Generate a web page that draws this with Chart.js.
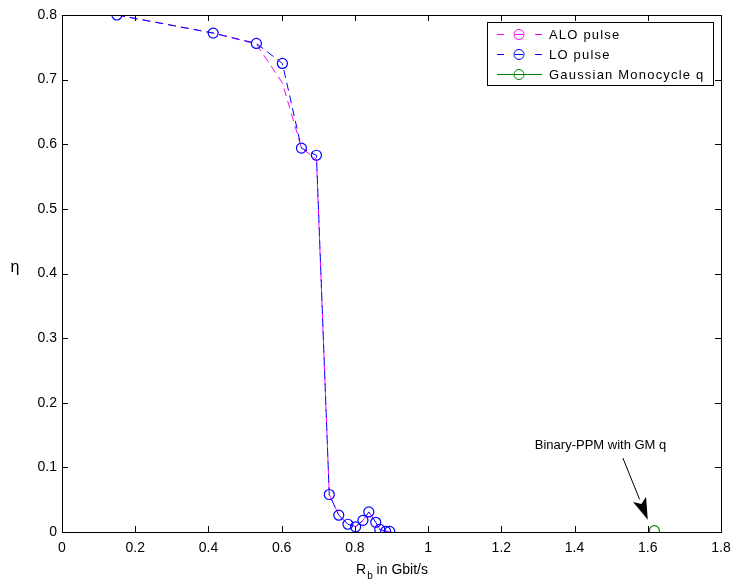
<!DOCTYPE html>
<html>
<head>
<meta charset="utf-8">
<script src="https://cdn.jsdelivr.net/npm/chart.js@4.4.1/dist/chart.umd.min.js"></script>
<style>
  html, body { margin: 0; padding: 0; background: #fff; }
  #wrap { width: 733px; height: 581px; position: relative; }
</style>
</head>
<body>
<div id="wrap"><canvas id="chart"></canvas></div>
<script>
// data
const loRate = [0.150, 0.413, 0.531, 0.602, 0.654, 0.695, 0.730, 0.756, 0.781, 0.802, 0.822, 0.838, 0.857, 0.868, 0.884, 0.895];
const loEta  = [0.800, 0.772, 0.756, 0.725, 0.594, 0.583, 0.058, 0.026, 0.012, 0.008, 0.018, 0.031, 0.015, 0.004, 0.001, 0.001];

const aloRate = [0.150, 0.413, 0.531, 0.602, 0.654, 0.695, 0.730, 0.756, 0.781, 0.802, 0.822, 0.838, 0.857, 0.868, 0.884, 0.895];
const aloEta  = [0.800, 0.772, 0.755, 0.695, 0.594, 0.577, 0.058, 0.026, 0.012, 0.008, 0.018, 0.031, 0.015, 0.004, 0.001, 0.001];

const gmRate = [1.618];
const gmEta  = [0.002];

const xTicks = [0, 0.2, 0.4, 0.6, 0.8, 1, 1.2, 1.4, 1.6, 1.8];
const yTicks = [0, 0.1, 0.2, 0.3, 0.4, 0.5, 0.6, 0.7, 0.8];

const seriesNames = ['ALO pulse', 'LO pulse', 'Gaussian Monocycle q'];
const noteText = 'Binary-PPM with GM q';

const FONT = '"Liberation Sans", Arial, sans-serif';

const toPoints = (xs, ys) => xs.map((x, i) => ({ x: x, y: ys[i] }));

// frame, inward ticks, axis labels, legend and the arrow note
const decorations = {
  id: 'decorations',
  afterDraw(chart) {
    const ctx = chart.ctx;
    const a = chart.chartArea;
    const xs = chart.scales.x;
    const ys = chart.scales.y;
    ctx.save();

    // box
    ctx.strokeStyle = '#000';
    ctx.lineWidth = 1;
    ctx.setLineDash([]);
    ctx.strokeRect(Math.round(a.left) + 0.5, Math.round(a.top) + 0.5, Math.round(a.right - a.left), Math.round(a.bottom - a.top));

    // ticks pointing in
    const tl = 6;
    ctx.beginPath();
    xTicks.forEach(v => {
      const px = Math.round(xs.getPixelForValue(v)) + 0.5;
      ctx.moveTo(px, a.bottom); ctx.lineTo(px, a.bottom - tl);
      ctx.moveTo(px, a.top); ctx.lineTo(px, a.top + tl);
    });
    yTicks.forEach(v => {
      const py = Math.round(ys.getPixelForValue(v)) + 0.5;
      ctx.moveTo(a.left, py); ctx.lineTo(a.left + tl, py);
      ctx.moveTo(a.right, py); ctx.lineTo(a.right - tl, py);
    });
    ctx.stroke();

    // axis titles
    ctx.fillStyle = '#000';
    ctx.textBaseline = 'alphabetic';
    const part1 = 'R', sub = 'b', part2 = ' in Gbit/s';
    ctx.font = '14px ' + FONT;
    const w1 = ctx.measureText(part1).width;
    const w3 = ctx.measureText(part2).width;
    ctx.font = '10px ' + FONT;
    const w2 = ctx.measureText(sub).width;
    let tx = (a.left + a.right) / 2 - (w1 + w2 + w3) / 2;
    ctx.font = '14px ' + FONT;
    ctx.fillText(part1, tx, 574);
    ctx.font = '10px ' + FONT;
    ctx.fillText(sub, tx + w1 + 1, 579);
    ctx.font = '14px ' + FONT;
    ctx.fillText(part2, tx + w1 + w2 + 1, 574);

    ctx.textAlign = 'center';
    ctx.textBaseline = 'middle';
    ctx.font = '16px ' + FONT;
    ctx.fillText('\u03b7', 15, 268);

    // annotation with arrow
    ctx.font = '13px ' + FONT;
    ctx.textAlign = 'center';
    ctx.textBaseline = 'alphabetic';
    ctx.fillText(noteText, xs.getPixelForValue(1.471), ys.getPixelForValue(0.128));
    const x0 = xs.getPixelForValue(1.532), y0 = ys.getPixelForValue(0.1145);
    const x1 = xs.getPixelForValue(1.600), y1 = ys.getPixelForValue(0.019);
    const ang = Math.atan2(y1 - y0, x1 - x0);
    const hl = 22, hw = 7;
    const bx = x1 - hl * Math.cos(ang), by = y1 - hl * Math.sin(ang);
    ctx.beginPath();
    ctx.moveTo(x0, y0); ctx.lineTo(bx, by);
    ctx.stroke();
    ctx.beginPath();
    ctx.moveTo(x1, y1);
    ctx.lineTo(bx + hw * Math.sin(ang), by - hw * Math.cos(ang));
    ctx.lineTo(bx + 5 * Math.cos(ang), by + 5 * Math.sin(ang));
    ctx.lineTo(bx - hw * Math.sin(ang), by + hw * Math.cos(ang));
    ctx.closePath();
    ctx.fill();

    // legend
    const lx = 487.5, ly = 22.5, lw = 226, lh = 63;
    ctx.fillStyle = '#fff';
    ctx.fillRect(lx, ly, lw, lh);
    ctx.strokeStyle = '#000';
    ctx.strokeRect(lx, ly, lw, lh);
    const rows = [34.5, 54.5, 74.5];
    [0, 1, 2].forEach((di, r) => {
      const ds = chart.data.datasets[di];
      const y = rows[r];
      ctx.strokeStyle = ds.borderColor;
      ctx.lineWidth = 1;
      ctx.beginPath();
      if (ds.borderDash && ds.borderDash.length) {
        ctx.moveTo(497, y); ctx.lineTo(504, y);
        ctx.moveTo(515, y); ctx.lineTo(523, y);
        ctx.moveTo(535, y); ctx.lineTo(542, y);
      } else {
        ctx.moveTo(497, y); ctx.lineTo(542, y);
      }
      ctx.stroke();
      ctx.beginPath();
      ctx.arc(519, y, 5, 0, Math.PI * 2);
      ctx.stroke();
      ctx.fillStyle = '#000';
      ctx.font = '13px ' + FONT;
      ctx.textAlign = 'left';
      ctx.textBaseline = 'middle';
      if ('letterSpacing' in ctx) ctx.letterSpacing = '1.2px';
      ctx.fillText(seriesNames[di], 549, y + 1);
      if ('letterSpacing' in ctx) ctx.letterSpacing = '0px';
    });

    ctx.restore();
  }
};

new Chart(document.getElementById('chart'), {
  type: 'line',
  data: {
    datasets: [
      {
        label: seriesNames[0],
        data: toPoints(aloRate, aloEta),
        borderColor: '#ff00ff',
        borderWidth: 1,
        borderDash: [8, 5],
        pointRadius: 0,
        fill: false,
        tension: 0,
        order: 2
      },
      {
        label: seriesNames[1],
        data: toPoints(loRate, loEta),
        borderColor: '#0000ff',
        borderWidth: 1,
        borderDash: [8, 5],
        pointRadius: 5,
        pointBorderWidth: 1.2,
        pointBorderColor: '#0000ff',
        pointBackgroundColor: 'rgba(0,0,0,0)',
        fill: false,
        tension: 0,
        order: 1
      },
      {
        label: seriesNames[2],
        data: toPoints(gmRate, gmEta),
        borderColor: '#008000',
        borderWidth: 1,
        showLine: false,
        pointRadius: 5,
        pointBorderWidth: 1.2,
        pointBorderColor: '#008000',
        pointBackgroundColor: 'rgba(0,0,0,0)',
        order: 0
      }
    ]
  },
  options: {
    responsive: true,
    maintainAspectRatio: false,
    animation: false,
    layout: { padding: { top: 15, right: 12, left: 0, bottom: 0 } },
    plugins: {
      legend: { display: false },
      tooltip: { enabled: false }
    },
    scales: {
      x: {
        type: 'linear',
        min: 0,
        max: 1.8,
        afterFit: (scale) => { scale.height = 49; scale.paddingLeft = 0; scale.paddingRight = 0; },
        afterBuildTicks: (scale) => { scale.ticks = xTicks.map(v => ({ value: v })); },
        grid: { display: false, drawTicks: false },
        border: { display: false },
        ticks: {
          padding: 8,
          color: '#000',
          font: { family: FONT, size: 14 },
          maxRotation: 0,
          callback: (v) => String(v)
        }
      },
      y: {
        type: 'linear',
        min: 0,
        max: 0.8,
        afterFit: (scale) => { scale.width = 62; scale.paddingTop = 0; scale.paddingBottom = 0; },
        afterBuildTicks: (scale) => { scale.ticks = yTicks.map(v => ({ value: v })); },
        grid: { display: false, drawTicks: false },
        border: { display: false },
        ticks: {
          padding: 5,
          color: '#000',
          font: { family: FONT, size: 14 },
          callback: (v) => String(v)
        }
      }
    }
  },
  plugins: [decorations]
});
</script>
</body>
</html>
